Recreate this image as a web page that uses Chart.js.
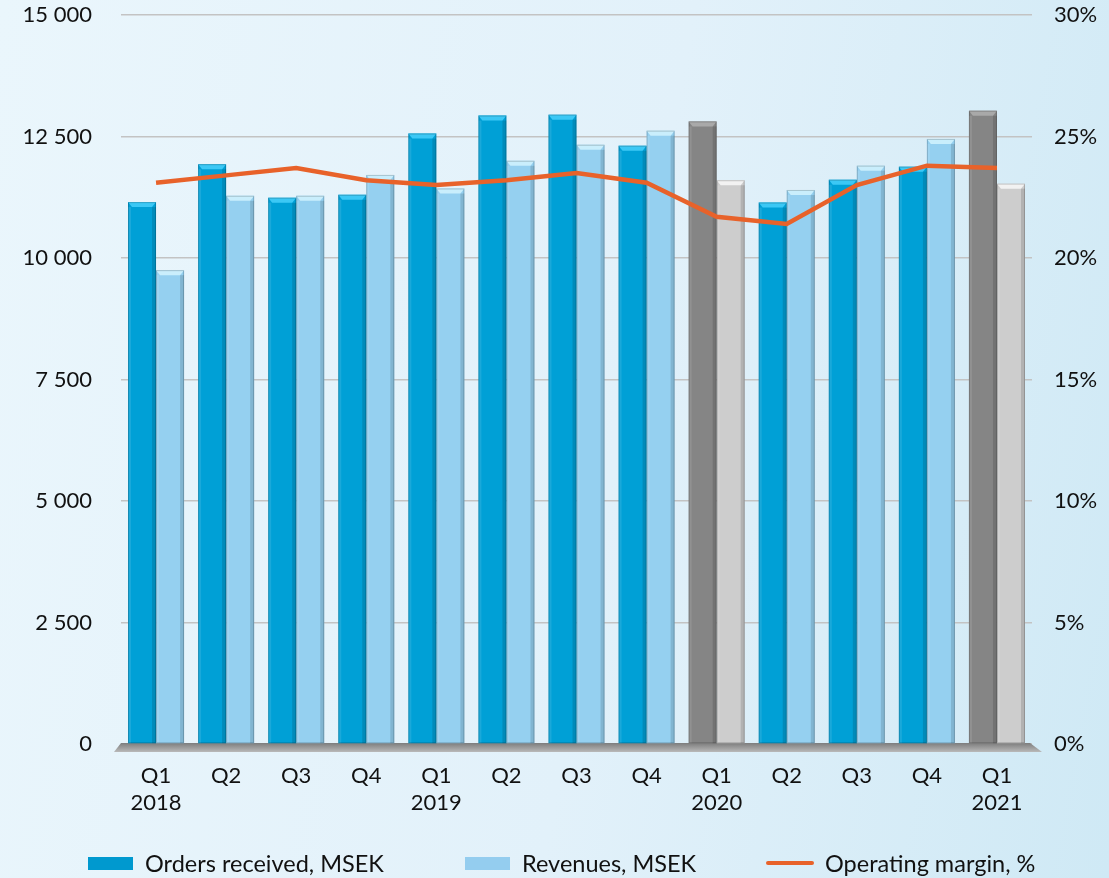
<!DOCTYPE html>
<html>
<head>
<meta charset="utf-8">
<script src="https://cdn.jsdelivr.net/npm/chart.js@4"></script>
<style>
  html, body { margin: 0; padding: 0; }
  body {
    width: 1109px; height: 878px; overflow: hidden; position: relative;
    background: linear-gradient(100deg, #eaf6fc 0%, #e2f1fa 55%, #cfe9f5 100%);
    font-family: Lato, "Noto Sans", sans-serif;
  }
  #chart { position: absolute; left: 0; top: 0; }
  .leg { position: absolute; top: 848px; height: 30px; display: flex; align-items: center; font-size: 23.5px; color: #111; }
  .leg .box { width: 45px; height: 13px; margin-right: 12px; }
  .leg .ln { width: 48px; height: 4px; border-radius: 2px; background: #e8622a; margin-right: 11px; }
</style>
</head>
<body>
<canvas id="chart" width="1109" height="878"></canvas>
<div class="leg" style="left:88px"><span class="box" style="background:#0099cf"></span>Orders received, MSEK</div>
<div class="leg" style="left:465px"><span class="box" style="background:#94cdef"></span>Revenues, MSEK</div>
<div class="leg" style="left:766px"><span class="ln"></span>Operating margin, %</div>
<script>
// data
const quarters = ["Q1", "Q2", "Q3", "Q4", "Q1", "Q2", "Q3", "Q4", "Q1", "Q2", "Q3", "Q4", "Q1"];
const years = ["2018", "", "", "", "2019", "", "", "", "2020", "", "", "", "2021"];
const ordersReceived = [11150, 11930, 11240, 11300, 12560, 12930, 12950, 12310, 12810, 11140, 11610, 11880, 13030];
const revenues = [9750, 11280, 11280, 11710, 11430, 12000, 12330, 12620, 11600, 11400, 11900, 12450, 11530];
const operatingMargin = [23.1, 23.4, 23.7, 23.2, 23.0, 23.2, 23.5, 23.1, 21.7, 21.4, 23.0, 23.8, 23.7];
const leftTicks = [0, 2500, 5000, 7500, 10000, 12500, 15000];
const rightTicks = [0, 5, 10, 15, 20, 25, 30];
const greyQuarters = [8, 12]; // Q1 2020 and Q1 2021 drawn in grey

const labels = quarters.map((q, i) => years[i] ? [q, years[i]] : [q]);

const ordersColors = quarters.map((q, i) => greyQuarters.includes(i) ? "#858585" : "#00a0d6");
const revenueColors = quarters.map((q, i) => greyQuarters.includes(i) ? "#cdcdcd" : "#95d0f0");

function spaced(v) {
  return String(v).replace(/\B(?=(\d{3})+(?!\d))/g, " ");
}

// floor under the bars
const floorPlugin = {
  id: "floor",
  beforeDatasetsDraw(chart) {
    const { ctx, chartArea } = chart;
    const y0 = chartArea.bottom - 1;
    const y1 = y0 + 9;
    const g = ctx.createLinearGradient(0, y0, 0, y1);
    g.addColorStop(0, "#7d7d7d");
    g.addColorStop(1, "#b9b9b9");
    ctx.save();
    ctx.fillStyle = g;
    ctx.beginPath();
    ctx.moveTo(chartArea.left, y0);
    ctx.lineTo(chartArea.right - 2, y0);
    ctx.lineTo(chartArea.right + 10, y1);
    ctx.lineTo(chartArea.left - 7, y1);
    ctx.closePath();
    ctx.fill();
    ctx.restore();
  }
};

// bevelled tops on the bars
const bevelPlugin = {
  id: "bevel",
  afterDatasetDraw(chart, args) {
    if (args.index > 1) return;
    const { ctx } = chart;
    const meta = chart.getDatasetMeta(args.index);
    meta.data.forEach((bar, i) => {
      const grey = greyQuarters.includes(i);
      let cap;
      if (args.index === 0) cap = grey ? "#a9a9a9" : "#3cc8f5";
      else cap = grey ? "#f2f2f2" : "#c9eefc";
      const l = bar.x - bar.width / 2, r = bar.x + bar.width / 2;
      const t = bar.y, b = bar.base;
      ctx.save();
      // right side shade
      ctx.fillStyle = "rgba(0,0,0,0.13)";
      ctx.fillRect(r - 4, t + 5, 4, b - t - 5);
      // left side light
      ctx.fillStyle = "rgba(255,255,255,0.10)";
      ctx.fillRect(l, t + 5, 3, b - t - 5);
      // top cap
      ctx.fillStyle = cap;
      ctx.beginPath();
      ctx.moveTo(l, t);
      ctx.lineTo(r, t);
      ctx.lineTo(r - 4, t + 5);
      ctx.lineTo(l + 4, t + 5);
      ctx.closePath();
      ctx.fill();
      // outline
      ctx.strokeStyle = "rgba(0,0,0,0.18)";
      ctx.lineWidth = 1;
      ctx.strokeRect(l + 0.5, t + 0.5, bar.width - 1, b - t - 1);
      ctx.restore();
    });
  }
};

const tickFont = { family: "Lato, 'Noto Sans', sans-serif", size: 22 };

function fixY(width) {
  return scale => {
    scale.width = width;
    scale.paddingTop = 0;
    scale.paddingBottom = 0;
  };
}

new Chart(document.getElementById("chart"), {
  type: "bar",
  data: {
    labels: labels,
    datasets: [
      {
        label: "Orders received, MSEK",
        data: ordersReceived,
        backgroundColor: ordersColors,
        categoryPercentage: 0.8,
        barPercentage: 1.0,
        yAxisID: "y",
        order: 1
      },
      {
        label: "Revenues, MSEK",
        data: revenues,
        backgroundColor: revenueColors,
        categoryPercentage: 0.8,
        barPercentage: 1.0,
        yAxisID: "y",
        order: 1
      },
      {
        type: "line",
        label: "Operating margin, %",
        data: operatingMargin,
        borderColor: "#e8622a",
        borderWidth: 4.5,
        pointRadius: 0,
        tension: 0,
        fill: false,
        yAxisID: "y1",
        order: 0
      }
    ]
  },
  options: {
    responsive: false,
    animation: false,
    layout: { padding: { top: 15, left: 0, right: 0, bottom: 0 } },
    plugins: {
      legend: { display: false },
      tooltip: { enabled: false }
    },
    scales: {
      x: {
        grid: { display: false, drawTicks: false },
        border: { display: false },
        ticks: { color: "#111", font: { ...tickFont, lineHeight: 1.25 }, padding: 18, maxRotation: 0, autoSkip: false },
        afterFit(scale) { scale.height = 134; scale.paddingLeft = 0; scale.paddingRight = 0; }
      },
      y: {
        position: "left",
        min: 0,
        max: 15000,
        afterBuildTicks(scale) { scale.ticks = leftTicks.map(v => ({ value: v })); },
        grid: { color: "#c3c3c3", lineWidth: 1.5, drawTicks: false },
        border: { display: false },
        ticks: { color: "#111", font: tickFont, padding: 29, callback: v => spaced(v) },
        afterFit: fixY(121)
      },
      y1: {
        position: "right",
        min: 0,
        max: 30,
        afterBuildTicks(scale) { scale.ticks = rightTicks.map(v => ({ value: v })); },
        grid: { display: false, drawTicks: false },
        border: { display: false },
        ticks: { color: "#111", font: tickFont, padding: 22, callback: v => v + "%" },
        afterFit: fixY(77)
      }
    }
  },
  plugins: [floorPlugin, bevelPlugin]
});
</script>
</body>
</html>
